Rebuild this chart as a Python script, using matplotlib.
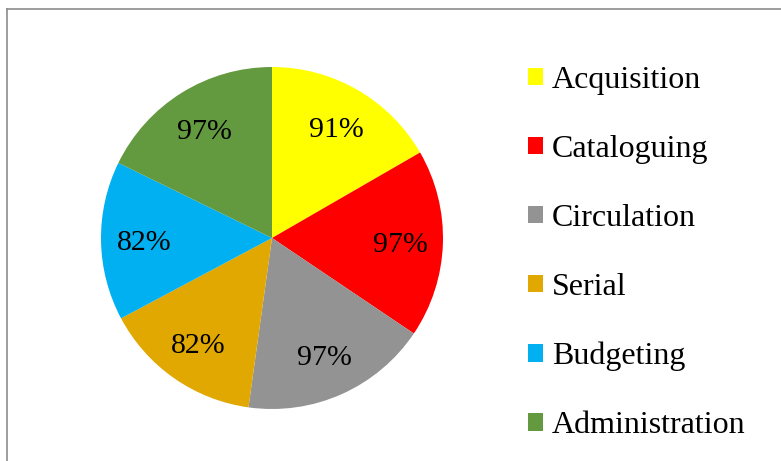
import matplotlib
matplotlib.use("Agg")
import matplotlib.pyplot as plt
from matplotlib.patches import Patch
from matplotlib.lines import Line2D

categories = ["Acquisition", "Cataloguing", "Circulation", "Serial", "Budgeting", "Administration"]
values = [91, 97, 97, 82, 82, 97]
colors = ["#FFFF00", "#FF0000", "#939393", "#E0A800", "#00B0F0", "#639A3F"]

plt.rcParams['font.family'] = ['Liberation Serif', 'DejaVu Serif']

W, H = 781, 461
fig = plt.figure(figsize=(W / 100, H / 100), dpi=100)

cx, cy, r = 272, 238, 171
ax = fig.add_axes([(cx - r) / W, (H - cy - r) / H, 2 * r / W, 2 * r / H])

labels_iter = iter(values)
wedges, texts, autotexts = ax.pie(
    values,
    colors=colors,
    startangle=90,
    counterclock=False,
    radius=1,
    autopct=lambda p: f"{next(labels_iter)}%",
    pctdistance=0.75,
    wedgeprops=dict(linewidth=0),
    textprops=dict(fontsize=21.5, color="black"),
)
for t in autotexts:
    t.set_verticalalignment("center_baseline")
ax.set_xlim(-1, 1)
ax.set_ylim(-1, 1)
ax.set_aspect("equal")

handles = [Patch(facecolor=c, edgecolor="none") for c in colors]
leg = fig.legend(
    handles, categories,
    loc="upper left",
    bbox_to_anchor=(528 / W, 1 - 66 / H),
    frameon=False,
    fontsize=23,
    handlelength=0.47,
    handleheight=0.47,
    handletextpad=0.28,
    labelspacing=1.25,
    borderpad=0.0,
    borderaxespad=0.0,
)

# chart-area border (left and top edges only are visible)
fig.add_artist(Line2D([7.5 / W, 7.5 / W], [0, 1 - 9.5 / H], transform=fig.transFigure,
                      color="#8C8C8C", linewidth=1.2))
fig.add_artist(Line2D([7.5 / W, 1], [1 - 9.5 / H, 1 - 9.5 / H], transform=fig.transFigure,
                      color="#8C8C8C", linewidth=1.2))

fig.savefig("out.png", dpi=100)
